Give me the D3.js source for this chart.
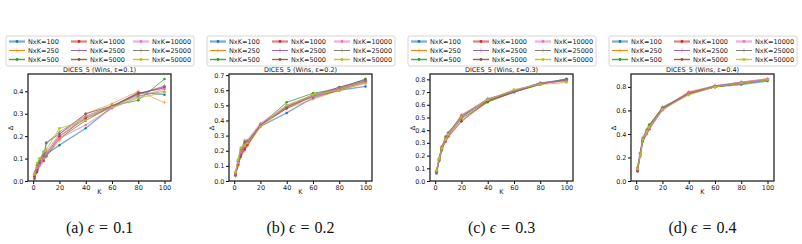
<!DOCTYPE html>
<html>
<head>
<meta charset="utf-8" />
<script src="https://cdn.jsdelivr.net/npm/d3@7"></script>
<style>
  body { margin: 0; background: #fff; }
  svg { display: block; font-family: 'DejaVu Sans', sans-serif; }
</style>
</head>
<body>
<div id="svg-container"></div>
<script>
const kValues = [1, 3, 5, 8, 10, 20, 40, 60, 80, 100];
const seriesNames = ['NxK=100', 'NxK=250', 'NxK=500', 'NxK=1000', 'NxK=2500', 'NxK=5000', 'NxK=10000', 'NxK=25000', 'NxK=50000'];
const epsilons = ['0.1', '0.2', '0.3', '0.4'];
const panelLetters = ['a', 'b', 'c', 'd'];
const yTickSteps = [0.1, 0.1, 0.1, 0.2];
const xTicks = [0, 20, 40, 60, 80, 100];

const eps01 = [
  [0.02, 0.05, 0.08, 0.13, 0.12, 0.16, 0.235, 0.33, 0.395, 0.385],
  [0.01, 0.06, 0.08, 0.10, 0.11, 0.18, 0.30, 0.345, 0.40, 0.35],
  [0.03, 0.07, 0.10, 0.11, 0.11, 0.19, 0.27, 0.335, 0.36, 0.455],
  [0.02, 0.04, 0.07, 0.09, 0.12, 0.20, 0.28, 0.33, 0.39, 0.42],
  [0.03, 0.06, 0.09, 0.12, 0.13, 0.21, 0.285, 0.335, 0.385, 0.425],
  [0.01, 0.05, 0.08, 0.10, 0.17, 0.21, 0.30, 0.335, 0.39, 0.415],
  [0.03, 0.06, 0.07, 0.10, 0.12, 0.19, 0.25, 0.325, 0.375, 0.41],
  [0.04, 0.07, 0.09, 0.12, 0.17, 0.22, 0.29, 0.335, 0.38, 0.40],
  [0.03, 0.08, 0.10, 0.13, 0.14, 0.235, 0.27, 0.33, 0.37, 0.395],
];
const eps02 = [
  [0.05, 0.13, 0.17, 0.22, 0.24, 0.36, 0.45, 0.55, 0.60, 0.625],
  [0.04, 0.10, 0.18, 0.20, 0.23, 0.36, 0.48, 0.54, 0.60, 0.65],
  [0.05, 0.12, 0.20, 0.25, 0.26, 0.37, 0.52, 0.58, 0.61, 0.675],
  [0.04, 0.11, 0.16, 0.21, 0.24, 0.37, 0.49, 0.56, 0.60, 0.66],
  [0.06, 0.13, 0.19, 0.24, 0.26, 0.37, 0.49, 0.57, 0.62, 0.66],
  [0.04, 0.11, 0.17, 0.26, 0.25, 0.37, 0.48, 0.56, 0.62, 0.67],
  [0.05, 0.12, 0.19, 0.23, 0.27, 0.38, 0.50, 0.56, 0.61, 0.65],
  [0.03, 0.14, 0.21, 0.27, 0.26, 0.37, 0.49, 0.57, 0.61, 0.665],
  [0.06, 0.14, 0.22, 0.24, 0.25, 0.36, 0.50, 0.57, 0.60, 0.645],
];
const eps03 = [
  [0.06, 0.17, 0.26, 0.33, 0.38, 0.50, 0.64, 0.71, 0.77, 0.80],
  [0.08, 0.18, 0.25, 0.32, 0.37, 0.52, 0.63, 0.71, 0.77, 0.79],
  [0.07, 0.16, 0.24, 0.33, 0.36, 0.49, 0.62, 0.70, 0.76, 0.805],
  [0.07, 0.17, 0.26, 0.31, 0.35, 0.47, 0.63, 0.70, 0.77, 0.79],
  [0.08, 0.16, 0.25, 0.34, 0.37, 0.50, 0.64, 0.71, 0.77, 0.795],
  [0.07, 0.18, 0.27, 0.35, 0.37, 0.51, 0.63, 0.70, 0.76, 0.80],
  [0.08, 0.17, 0.25, 0.32, 0.36, 0.52, 0.64, 0.71, 0.77, 0.785],
  [0.07, 0.16, 0.26, 0.34, 0.38, 0.51, 0.65, 0.70, 0.77, 0.80],
  [0.08, 0.18, 0.26, 0.33, 0.37, 0.50, 0.64, 0.72, 0.76, 0.775],
];
const eps04 = [
  [0.10, 0.22, 0.35, 0.42, 0.47, 0.62, 0.75, 0.80, 0.82, 0.85],
  [0.09, 0.21, 0.33, 0.41, 0.46, 0.61, 0.76, 0.81, 0.84, 0.87],
  [0.11, 0.23, 0.36, 0.43, 0.48, 0.62, 0.74, 0.80, 0.83, 0.86],
  [0.08, 0.22, 0.34, 0.40, 0.44, 0.61, 0.75, 0.80, 0.83, 0.86],
  [0.10, 0.23, 0.35, 0.42, 0.47, 0.62, 0.75, 0.81, 0.84, 0.865],
  [0.09, 0.22, 0.34, 0.41, 0.46, 0.61, 0.74, 0.80, 0.83, 0.86],
  [0.11, 0.21, 0.36, 0.40, 0.45, 0.60, 0.75, 0.80, 0.84, 0.865],
  [0.12, 0.24, 0.37, 0.44, 0.47, 0.63, 0.74, 0.81, 0.83, 0.855],
  [0.10, 0.22, 0.35, 0.42, 0.46, 0.61, 0.73, 0.80, 0.83, 0.86],
];
const panels = [eps01, eps02, eps03, eps04];

const WIDTH = 802;
const HEIGHT = 244;
const PANEL_STEP = 201;
const PLOT_LEFT = 28;
const PLOT_WIDTH = 143;
const PLOT_TOP = 74;
const PLOT_BOTTOM = 181;

const colorScale = d3.scaleOrdinal().domain(seriesNames).range(d3.schemeCategory10);
// rows of the legend share a line style
const lineWidth = (i) => [2.2, 1, 1.4][i % 3];
const lineAlpha = (i) => [0.6, 1, 0.9][i % 3];
const markerType = (i) => [d3.symbolCircle, d3.symbolPlus, d3.symbolCircle][i % 3];

const svg = d3
  .select('#svg-container')
  .append('svg')
  .attr('width', WIDTH)
  .attr('height', HEIGHT);

const drawPanel = (values, index) => {
  const offset = index * PANEL_STEP;
  const allValues = values.flat();
  const yMin = d3.min(allValues);
  const yMax = d3.max(allValues);
  const xPad = (d3.max(kValues) - d3.min(kValues)) * 0.05;

  const x = d3
    .scaleLinear()
    .domain([d3.min(kValues) - xPad, d3.max(kValues) + xPad])
    .range([PLOT_LEFT + offset, PLOT_LEFT + offset + PLOT_WIDTH]);
  const y = d3
    .scaleLinear()
    .domain([0, yMax + (yMax - yMin) * 0.05])
    .range([PLOT_BOTTOM, PLOT_TOP]);

  const g = svg.append('g').attr('class', 'panel');

  const step = yTickSteps[index];
  const yTicks = d3.range(0, y.domain()[1] + 1e-9, step);

  g.append('g')
    .attr('transform', `translate(0, ${PLOT_BOTTOM})`)
    .call(d3.axisBottom(x).tickValues(xTicks).tickSize(3).tickPadding(1.5))
    .call((axis) => axis.select('.domain').remove())
    .call((axis) => axis.selectAll('text').attr('font-size', 6.5).attr('fill', '#222').attr('font-family', 'DejaVu Sans'));

  g.append('g')
    .attr('transform', `translate(${x.range()[0]}, 0)`)
    .call(d3.axisLeft(y).tickValues(yTicks).tickFormat(d3.format('.1f')).tickSize(3).tickPadding(1.5))
    .call((axis) => axis.select('.domain').remove())
    .call((axis) => axis.selectAll('text').attr('font-size', 6.5).attr('fill', '#222').attr('font-family', 'DejaVu Sans'));

  const line = d3
    .line()
    .x((d, i) => x(kValues[i]))
    .y((d) => y(d));

  values.forEach((series, s) => {
    g.append('path')
      .datum(series)
      .attr('d', line)
      .attr('fill', 'none')
      .attr('stroke', colorScale(seriesNames[s]))
      .attr('stroke-width', lineWidth(s) * 0.6)
      .attr('stroke-opacity', lineAlpha(s));

    g.selectAll(null)
      .data(series)
      .join('path')
      .attr('transform', (d, i) => `translate(${x(kValues[i])}, ${y(d)})`)
      .attr('d', d3.symbol(markerType(s), 5))
      .attr('fill', colorScale(seriesNames[s]))
      .attr('stroke', markerType(s) === d3.symbolPlus ? colorScale(seriesNames[s]) : 'none')
      .attr('stroke-width', 0.5);
  });

  g.append('rect')
    .attr('x', x.range()[0])
    .attr('y', PLOT_TOP)
    .attr('width', PLOT_WIDTH)
    .attr('height', PLOT_BOTTOM - PLOT_TOP)
    .attr('fill', 'none')
    .attr('stroke', '#222')
    .attr('stroke-width', 1.3);

  const centerX = x.range()[0] + PLOT_WIDTH / 2;

  g.append('text')
    .attr('x', centerX)
    .attr('y', 72)
    .attr('text-anchor', 'middle')
    .attr('font-size', 6.5)
    .attr('fill', '#222')
    .text(`DICES_5 (Wins, \u03b5=${epsilons[index]})`);

  g.append('text')
    .attr('x', centerX)
    .attr('y', 194)
    .attr('text-anchor', 'middle')
    .attr('font-size', 6.5)
    .attr('fill', '#222')
    .text('K');

  g.append('text')
    .attr('transform', `translate(${offset + 12.5}, 128) rotate(-90)`)
    .attr('text-anchor', 'middle')
    .attr('font-size', 6.5)
    .attr('fill', '#222')
    .text('\u0394');

  // legend, three columns filled top to bottom
  const legend = g
    .append('g')
    .attr('transform', `translate(${offset + 6}, 36)`);

  legend
    .append('rect')
    .attr('width', 188)
    .attr('height', 30)
    .attr('rx', 2)
    .attr('fill', '#fff')
    .attr('stroke', '#ccc')
    .attr('stroke-width', 0.8);

  legend
    .selectAll('g')
    .data(seriesNames)
    .join('g')
    .attr('transform', (_, i) => `translate(${3 + Math.floor(i / 3) * 62}, ${5.5 + (i % 3) * 9})`)
    .each(function (name, i) {
      const item = d3.select(this);
      item.append('line')
        .attr('x1', 0)
        .attr('x2', 16)
        .attr('stroke', colorScale(name))
        .attr('stroke-width', lineWidth(i))
        .attr('stroke-opacity', lineAlpha(i));
      item.append('path')
        .attr('transform', 'translate(8, 0)')
        .attr('d', d3.symbol(markerType(i), 6))
        .attr('fill', colorScale(name))
        .attr('stroke', markerType(i) === d3.symbolPlus ? colorScale(name) : 'none')
        .attr('stroke-width', 0.5);
      item.append('text')
        .attr('x', 19)
        .attr('y', 2.3)
        .attr('font-size', 6.5)
        .attr('fill', '#222')
        .text(name);
    });

  const caption = svg
    .append('text')
    .attr('x', centerX)
    .attr('y', 233)
    .attr('text-anchor', 'middle')
    .attr('font-family', "'Liberation Serif', serif")
    .attr('font-size', 16)
    .attr('fill', '#111');
  caption.append('tspan').text(`(${panelLetters[index]})`);
  caption.append('tspan').attr('dx', 4).attr('font-style', 'italic').text('\u03f5');
  caption.append('tspan').attr('dx', 5).text('=');
  caption.append('tspan').attr('dx', 5).text(epsilons[index]);
};

panels.forEach(drawPanel);
</script>
</body>
</html>
